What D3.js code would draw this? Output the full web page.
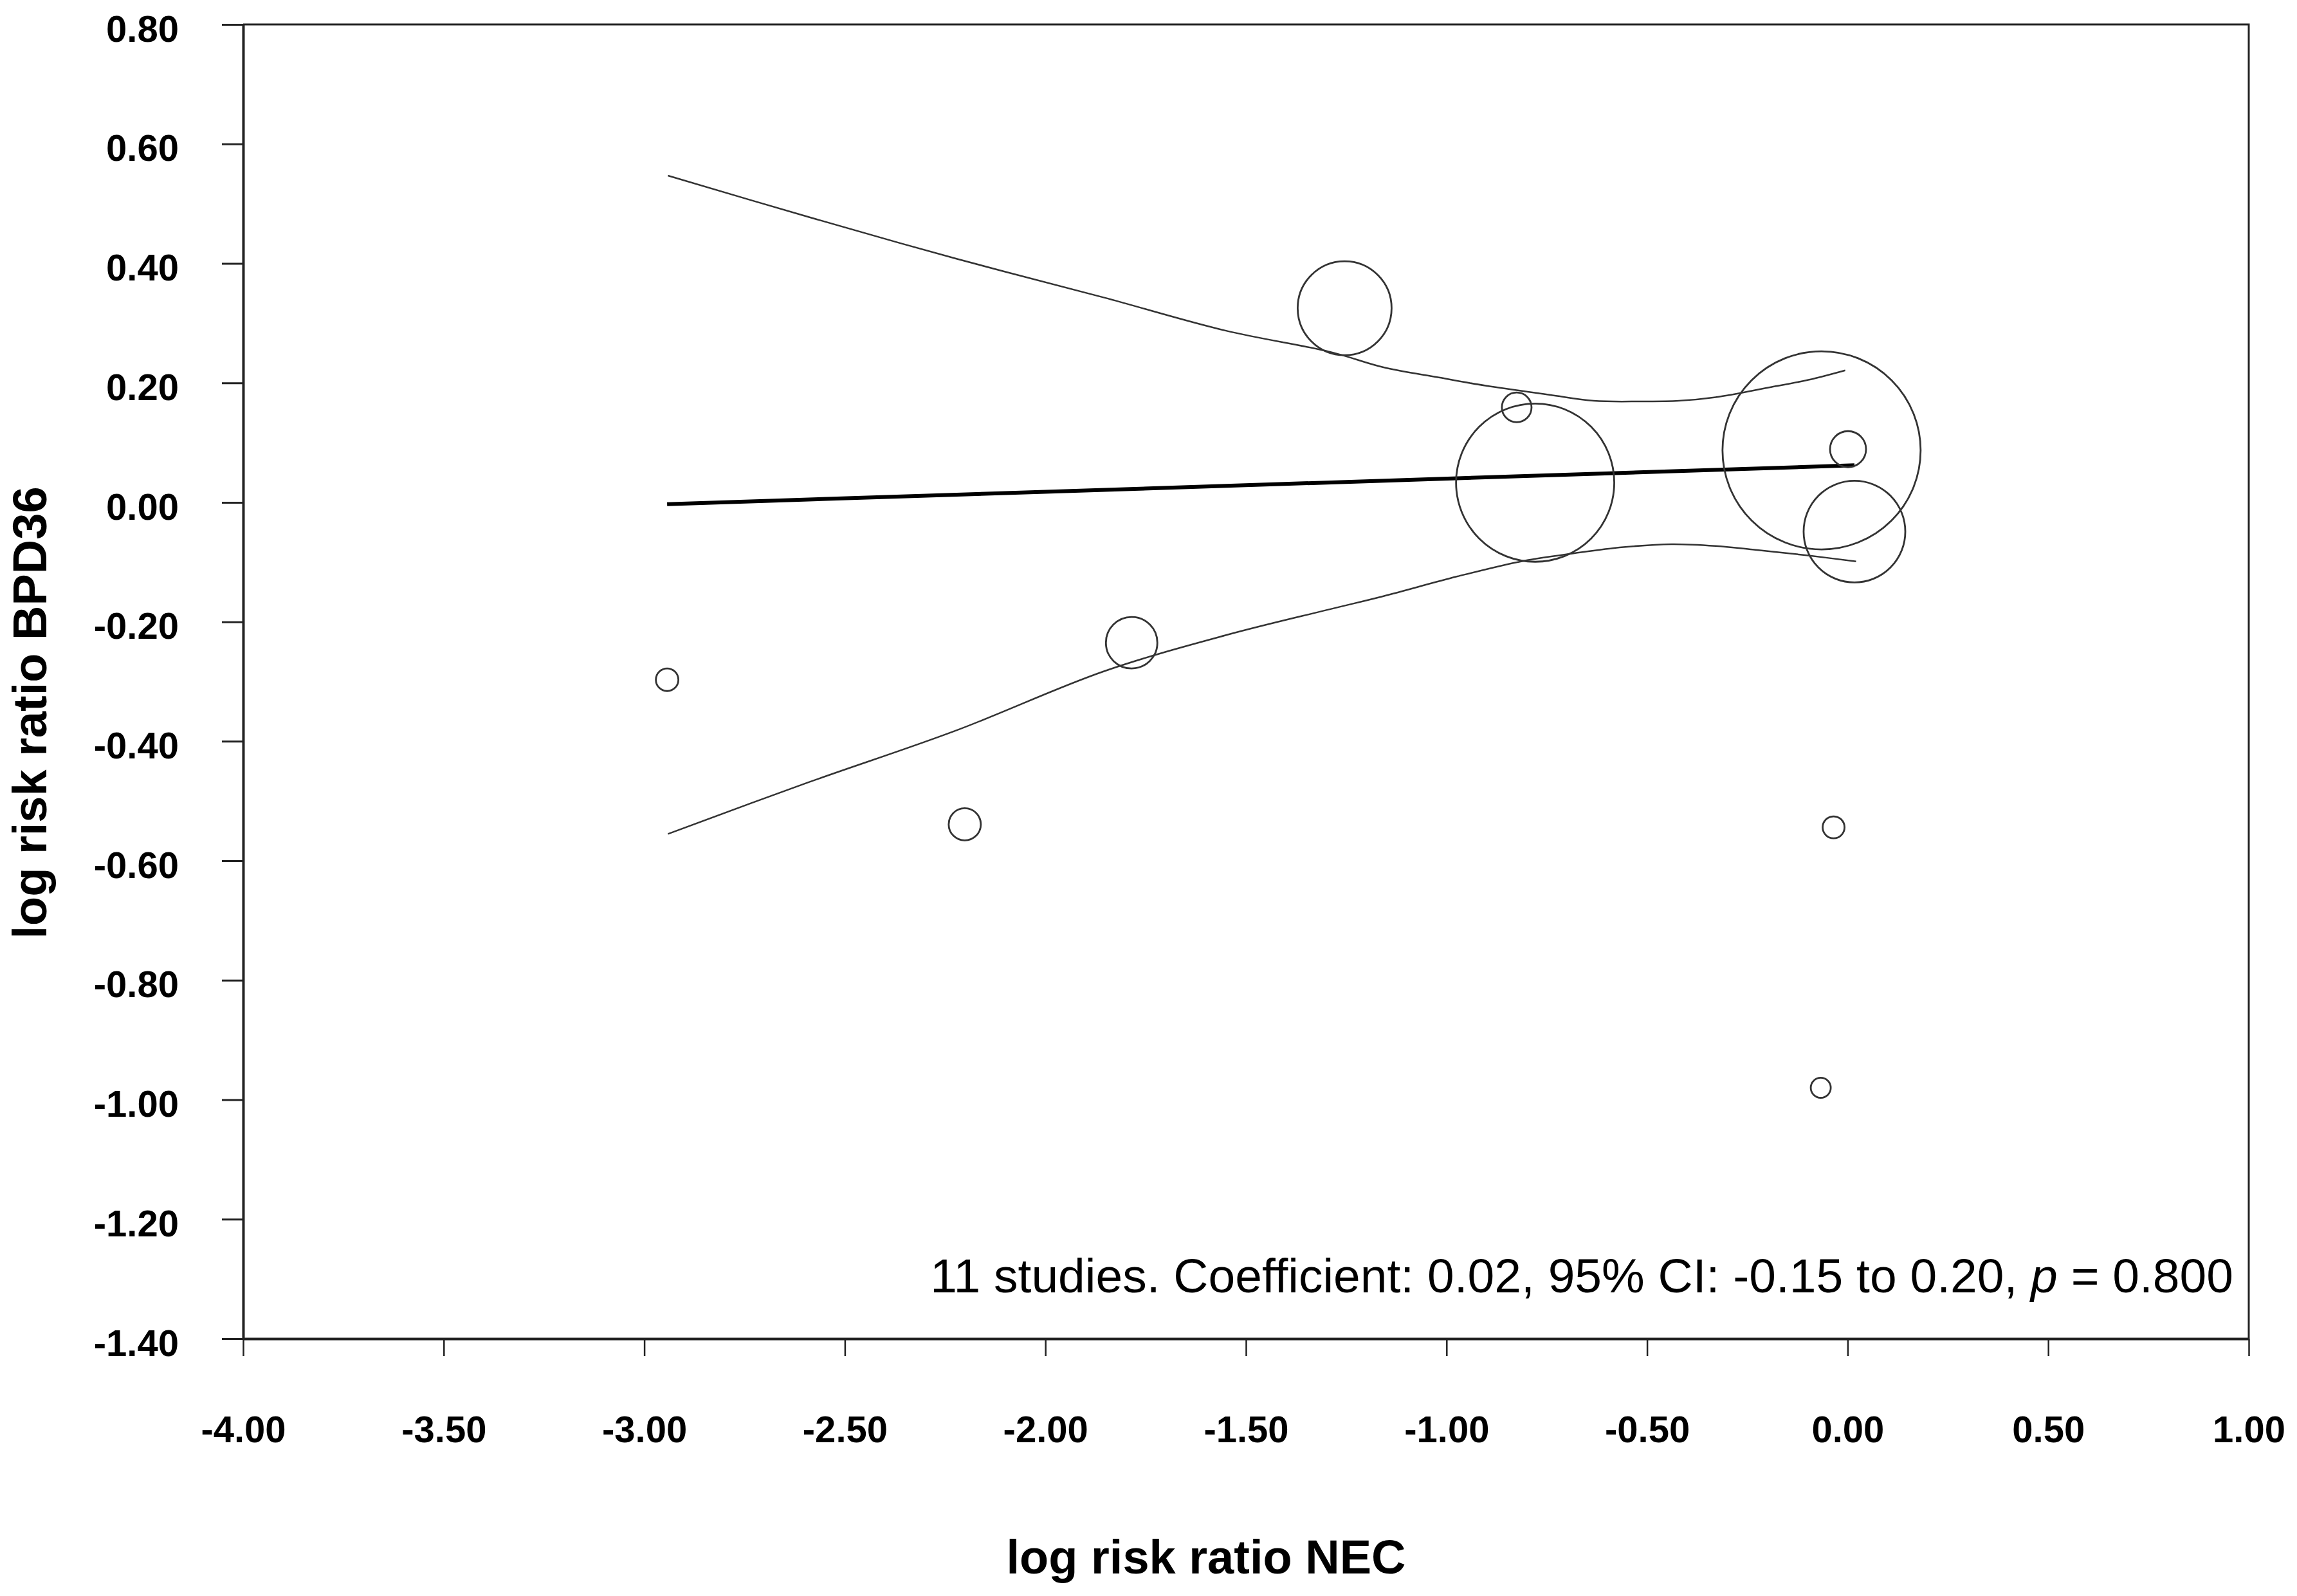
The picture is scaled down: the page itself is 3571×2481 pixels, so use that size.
<!DOCTYPE html>
<html>
<head>
<meta charset="utf-8">
<script src="https://cdnjs.cloudflare.com/ajax/libs/d3/7.8.5/d3.min.js"></script>
<style>
	body { margin: 0; background: #fff; }
	text { font-family: "Liberation Sans", Arial, sans-serif; }
</style>
</head>
<body>
<div id="chart-box"></div>
<script>
// study estimates (log risk ratio NEC, log risk ratio BPD36) and relative weight (%)
const studyX = [-2.943, -2.201, -1.785, -1.254, -0.825, -0.779, -0.065, 0.001, 0.017, -0.035, -0.067];
const studyY = [-0.297, -0.539, -0.235, 0.325, 0.159, 0.033, 0.087, 0.089, -0.049, -0.544, -0.980];
const studyWeight = [0.56, 1.14, 2.92, 9.73, 0.97, 27.6, 43.3, 1.43, 11.4, 0.53, 0.44];

// meta-regression fit line
const fitX = [-2.943, 0.017];
const fitY = [-0.003, 0.062];

// confidence band, upper and lower
const upperX = [-2.941, -2.592, -2.223, -1.855, -1.548, -1.291, -1.157, -1.019, -0.900, -0.743, -0.633, -0.513, -0.421, -0.329, -0.191, -0.098, -0.006];
const upperY = [0.547, 0.478, 0.408, 0.343, 0.287, 0.252, 0.226, 0.209, 0.195, 0.180, 0.170, 0.169, 0.170, 0.176, 0.193, 0.205, 0.221];
const lowerX = [-2.941, -2.592, -2.223, -1.855, -1.548, -1.291, -1.157, -0.973, -0.808, -0.679, -0.559, -0.439, -0.329, -0.237, -0.098, 0.021];
const lowerY = [-0.555, -0.469, -0.382, -0.283, -0.222, -0.179, -0.157, -0.124, -0.098, -0.085, -0.075, -0.070, -0.073, -0.079, -0.089, -0.099];

// tick values
const xTicks = [-4, -3.5, -3, -2.5, -2, -1.5, -1, -0.5, 0, 0.5, 1];
const yTicks = [0.8, 0.6, 0.4, 0.2, 0, -0.2, -0.4, -0.6, -0.8, -1.0, -1.2, -1.4];

const xTitle = "log risk ratio NEC";
const yTitle = "log risk ratio BPD36";

const bubblePlot =
{
	draw: function ()
	{
		let width = 3571;
		let height = 2481;
		let padd = {left: 378, right: 75, top: 38, bottom: 400};
		//plain hyphen for negatives, like the original
		const fmt = d => d.toFixed(2);

		const svg = d3.select("#chart-box")
		.append("svg")
		.attr("width", width)
		.attr("height", height);

		const xScale = d3.scaleLinear()
		.domain([-4, 1])
		.range([padd.left, width - padd.right]);

		const yScale = d3.scaleLinear()
		.domain([-1.4, 0.8])
		.range([height - padd.bottom, padd.top]);

		const rScale = d3.scaleSqrt()
		.domain([0, 50])
		.range([0, 165.5]);

		//frame: top and right border
		svg.append("path")
		.attr("d", `M${xScale(-4)},${yScale(0.8)}H${xScale(1)}V${yScale(-1.4)}`)
		.attr("fill", "none")
		.attr("stroke", "#222")
		.attr("stroke-width", 3);

		//X axis
		const xAxis = d3.axisBottom(xScale)
		.tickValues(xTicks)
		.tickFormat(fmt)
		.tickSizeInner(27)
		.tickSizeOuter(0)
		.tickPadding(93);

		svg.append("g")
		.attr("id", "x-axis")
		.attr("transform", `translate(0,${yScale(-1.4)})`)
		.call(xAxis)
		.call(g => g.select(".domain").attr("stroke", "#222").attr("stroke-width", 4))
		.call(g => g.selectAll(".tick line").attr("stroke", "#222").attr("stroke-width", 2.5))
		.call(g => g.selectAll(".tick text")
			.attr("fill", "#000")
			.attr("font-size", 58)
			.attr("font-weight", "bold")
			.attr("font-family", "Liberation Sans, Arial, sans-serif"));

		//Y axis
		const yAxis = d3.axisLeft(yScale)
		.tickValues(yTicks)
		.tickFormat(fmt)
		.tickSizeInner(33)
		.tickSizeOuter(0)
		.tickPadding(67);

		svg.append("g")
		.attr("id", "y-axis")
		.attr("transform", `translate(${xScale(-4)},0)`)
		.call(yAxis)
		.call(g => g.select(".domain").attr("stroke", "#222").attr("stroke-width", 4))
		.call(g => g.selectAll(".tick line").attr("stroke", "#222").attr("stroke-width", 3))
		.call(g => g.selectAll(".tick text")
			.attr("fill", "#000")
			.attr("dy", "0.45em")
			.attr("font-size", 58)
			.attr("font-weight", "bold")
			.attr("font-family", "Liberation Sans, Arial, sans-serif"));

		//axis titles
		svg.append("text")
		.attr("x", 1875)
		.attr("y", 2446)
		.attr("text-anchor", "middle")
		.attr("font-size", 74)
		.attr("font-weight", "bold")
		.attr("fill", "#000")
		.text(xTitle);

		svg.append("text")
		.attr("transform", "translate(72,1108) rotate(-90)")
		.attr("text-anchor", "middle")
		.attr("font-size", 74)
		.attr("font-weight", "bold")
		.attr("fill", "#000")
		.text(yTitle);

		this.drawMarks(svg, xScale, yScale, rScale);
	},
	drawMarks: function (svg, xScale, yScale, rScale)
	{
		const line = d3.line()
		.x(d => xScale(d[0]))
		.y(d => yScale(d[1]))
		.curve(d3.curveCatmullRom);

		//confidence band
		svg.append("path")
		.datum(d3.zip(upperX, upperY))
		.attr("d", line)
		.attr("fill", "none")
		.attr("stroke", "#333")
		.attr("stroke-width", 2.5);

		svg.append("path")
		.datum(d3.zip(lowerX, lowerY))
		.attr("d", line)
		.attr("fill", "none")
		.attr("stroke", "#333")
		.attr("stroke-width", 2.5);

		//fit line
		svg.append("path")
		.datum(d3.zip(fitX, fitY))
		.attr("d", line)
		.attr("fill", "none")
		.attr("stroke", "#000")
		.attr("stroke-width", 6);

		//study bubbles
		svg.append("g")
		.selectAll("circle")
		.data(d3.range(studyX.length))
		.enter()
		.append("circle")
		.attr("cx", i => xScale(studyX[i]))
		.attr("cy", i => yScale(studyY[i]))
		.attr("r", i => rScale(studyWeight[i]))
		.attr("fill", "none")
		.attr("stroke", "#333")
		.attr("stroke-width", 2.8);

		//summary note
		const note = svg.append("text")
		.attr("x", 3472)
		.attr("y", 2009)
		.attr("text-anchor", "end")
		.attr("font-size", 75)
		.attr("fill", "#000");
		note.append("tspan").text("11 studies. Coefficient: 0.02, 95% CI: -0.15 to 0.20, ");
		note.append("tspan").attr("font-style", "italic").text("p");
		note.append("tspan").text(" = 0.800");
	}
};

document.addEventListener("DOMContentLoaded", function (event)
{
	bubblePlot.draw();
});
</script>
</body>
</html>
